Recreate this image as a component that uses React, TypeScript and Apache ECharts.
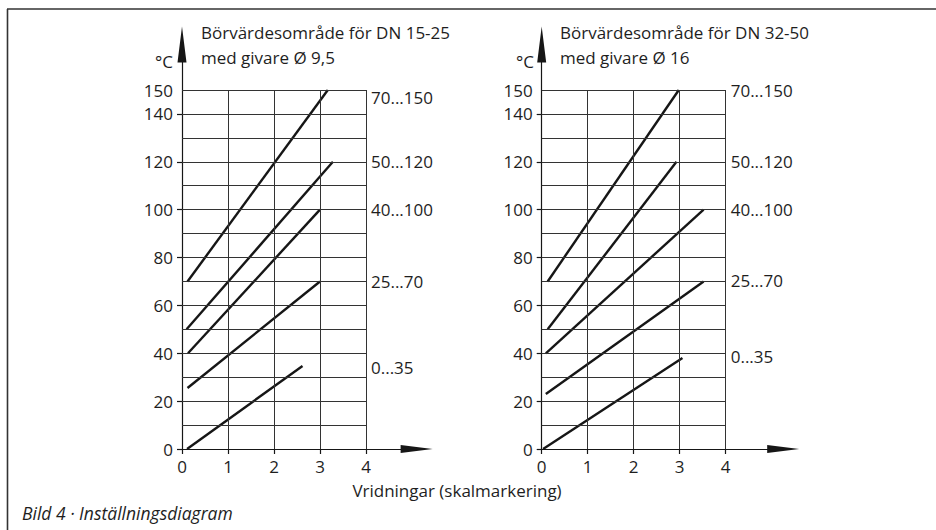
import React, { useEffect, useRef } from "react";
import * as echarts from "echarts";

// ---- data ----
const X_TICKS = [0, 1, 2, 3, 4];
const Y_TICKS = [0, 20, 40, 60, 80, 100, 120, 140];
const Y_LABELS = [0, 20, 40, 60, 80, 100, 120, 140, 150];
const GRID_X = [1, 2, 3, 4];
const GRID_Y = [10, 20, 30, 40, 50, 60, 70, 80, 90, 100, 110, 120, 130, 140, 150];

const RANGE_NAMES = ["70...150", "50...120", "40...100", "25...70", "0...35"];

const LEFT_START_X = [0.12, 0.1, 0.13, 0.12, 0.11];
const LEFT_START_Y = [70, 50, 40, 25.5, 0];
const LEFT_END_X = [3.17, 3.28, 3.0, 3.0, 2.62];
const LEFT_END_Y = [150, 120, 100, 70, 34.7];
const LEFT_LABEL_Y = [147, 120, 100, 70, 34];

const RIGHT_START_X = [0.13, 0.13, 0.09, 0.09, 0.03];
const RIGHT_START_Y = [70, 50, 40, 23, 0];
const RIGHT_END_X = [2.98, 2.93, 3.52, 3.52, 3.06];
const RIGHT_END_Y = [150, 120, 100, 70, 38];
const RIGHT_LABEL_Y = [150, 120, 100, 70.5, 38.5];

const TITLE_LEFT = ["Börvärdesområde för DN 15-25", "med givare Ø 9,5"];
const TITLE_RIGHT = ["Börvärdesområde för DN 32-50", "med givare Ø 16"];
const X_NAME = "Vridningar (skalmarkering)";
const UNIT = "°C";
const CAPTION = "Bild 4 · Inställningsdiagram";

// ---- layout ----
const FONT = "'Open Sans', 'Noto Sans', sans-serif";
const Y0 = 449;
const PY = 359 / 150;
const PX = 46;
const Y_MAX = 169;
const CHARTS = [
  { x0: 182, xMax: 5.1, sx: LEFT_START_X, sy: LEFT_START_Y, ex: LEFT_END_X, ey: LEFT_END_Y, ly: LEFT_LABEL_Y, title: TITLE_LEFT, tx: 201, ux: 173 },
  { x0: 541.7, xMax: 5.25, sx: RIGHT_START_X, sy: RIGHT_START_Y, ex: RIGHT_END_X, ey: RIGHT_END_Y, ly: RIGHT_LABEL_Y, title: TITLE_RIGHT, tx: 560, ux: 534 },
];

const INK = "#161616";
const TXT = "#1e1e1e";
const ARROW = "path://M5,0 L10,40 L0,40 Z";

export default function App() {
  const ref = useRef<HTMLDivElement>(null);
  useEffect(() => {
    if (!ref.current) return;
    const chart = echarts.init(ref.current, null, { renderer: "svg" });

    const grids: any[] = [];
    const xAxes: any[] = [];
    const yAxes: any[] = [];
    const series: any[] = [];
    const graphics: any[] = [];

    CHARTS.forEach((c, gi) => {
      grids.push({
        left: c.x0,
        top: Y0 - Y_MAX * PY,
        width: c.xMax * PX,
        height: Y_MAX * PY,
        outerBoundsMode: "none",
        containLabel: false,
      });
      xAxes.push({
        type: "value",
        gridIndex: gi,
        min: 0,
        max: c.xMax,
        axisLine: {
          show: true,
          lineStyle: { color: INK, width: 1.2 },
          symbol: ["none", ARROW],
          symbolSize: [10, 32],
        },
        axisTick: { show: true, customValues: X_TICKS, length: 5, lineStyle: { color: INK, width: 1.2 } },
        axisLabel: { show: true, customValues: X_TICKS, color: TXT, fontSize: 17, fontFamily: FONT, margin: 9 },
        splitLine: { show: false },
      });
      yAxes.push({
        type: "value",
        gridIndex: gi,
        min: 0,
        max: Y_MAX,
        axisLine: {
          show: true,
          lineStyle: { color: INK, width: 1.2 },
          symbol: ["none", ARROW],
          symbolSize: [9, 36],
        },
        axisTick: { show: true, customValues: Y_TICKS, length: 5, lineStyle: { color: INK, width: 1.2 } },
        axisLabel: { show: true, customValues: Y_LABELS, color: TXT, fontSize: 17, fontFamily: FONT, margin: 9 },
        splitLine: { show: false },
      });

      const markData: any[] = [];
      GRID_X.forEach((x) => markData.push([{ coord: [x, 0] }, { coord: [x, 150] }]));
      GRID_Y.forEach((y) => markData.push([{ coord: [0, y] }, { coord: [4, y] }]));

      series.push({
        type: "scatter",
        xAxisIndex: gi,
        yAxisIndex: gi,
        silent: true,
        symbolSize: 0,
        itemStyle: { color: INK },
        data: c.ly.map((y, i) => [4, y, RANGE_NAMES[i]]),
        label: {
          show: true,
          position: "right",
          distance: 5,
          color: TXT,
          opacity: 1,
          fontSize: 17,
          fontFamily: FONT,
          formatter: (p: any) => p.value[2],
        },
        markLine: {
          silent: true,
          symbol: ["none", "none"],
          label: { show: false },
          lineStyle: { color: "#333", width: 1, type: "solid", opacity: 1 },
          emphasis: { disabled: true },
          data: markData,
        },
        z: 1,
      });

      RANGE_NAMES.forEach((name, i) => {
        series.push({
          type: "line",
          name: name + gi,
          xAxisIndex: gi,
          yAxisIndex: gi,
          showSymbol: false,
          symbol: "none",
          silent: true,
          lineStyle: { color: INK, width: 2.4, cap: "butt" },
          data: [
            [c.sx[i], c.sy[i]],
            [c.ex[i], c.ey[i]],
          ],
          z: 3,
        });
      });

      graphics.push({
        type: "text",
        left: c.tx,
        top: 24,
        style: { text: c.title[0], fontSize: 17, fontFamily: FONT, fill: TXT },
      });
      graphics.push({
        type: "text",
        left: c.tx,
        top: 49,
        style: { text: c.title[1], fontSize: 17, fontFamily: FONT, fill: TXT },
      });
      graphics.push({
        type: "text",
        x: c.ux,
        y: 61,
        style: { text: UNIT, fontSize: 17, fontFamily: FONT, fill: TXT, align: "right", verticalAlign: "middle" },
      });
    });

    graphics.push({
      type: "text",
      x: 457,
      y: 490,
      style: { text: X_NAME, fontSize: 17, fontFamily: FONT, fill: TXT, align: "center", verticalAlign: "middle" },
    });
    graphics.push({
      type: "text",
      x: 22,
      y: 513,
      style: { text: CAPTION, fontSize: 17.5, fontStyle: "italic", fontFamily: FONT, fill: TXT, verticalAlign: "middle" },
    });
    graphics.push({
      type: "line",
      shape: { x1: 7, y1: 9, x2: 936, y2: 9 },
      style: { stroke: "#333", lineWidth: 1.6 },
    });
    graphics.push({
      type: "line",
      shape: { x1: 7.5, y1: 9, x2: 7.5, y2: 530 },
      style: { stroke: "#333", lineWidth: 1.6 },
    });

    chart.setOption({
      animation: false,
      backgroundColor: "#ffffff",
      grid: grids,
      xAxis: xAxes,
      yAxis: yAxes,
      series,
      graphic: graphics,
    });
    return () => chart.dispose();
  }, []);
  return (
    <div
      ref={ref}
      style={{ position: "fixed", left: 0, top: 0, width: 936, height: 530 }}
    />
  );
}
